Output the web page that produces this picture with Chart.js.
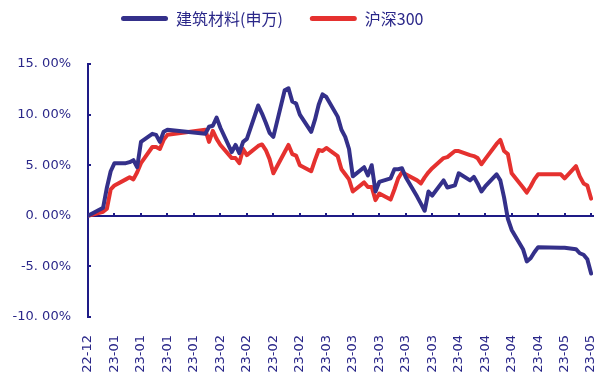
<!DOCTYPE html>
<html><head><meta charset="utf-8">
<script src="https://cdn.jsdelivr.net/npm/chart.js@4/dist/chart.umd.min.js"></script>
<style>html,body{margin:0;padding:0;background:#fff}#wrap{width:600px;height:378px;position:relative}</style>
</head><body><div id="wrap"><canvas id="c"></canvas></div>
<script>
// ---- data ----
const startDate = '2022-12-30';
const dates = [
 '2022-12-30',
 '2023-01-03','2023-01-04','2023-01-05','2023-01-06','2023-01-09','2023-01-10','2023-01-11','2023-01-12','2023-01-13',
 '2023-01-16','2023-01-17','2023-01-18','2023-01-19','2023-01-20','2023-01-30','2023-01-31',
 '2023-02-01','2023-02-02','2023-02-03','2023-02-06','2023-02-07','2023-02-08','2023-02-09','2023-02-10',
 '2023-02-13','2023-02-14','2023-02-15','2023-02-16','2023-02-17','2023-02-20','2023-02-21','2023-02-22','2023-02-23','2023-02-24',
 '2023-02-27','2023-02-28',
 '2023-03-01','2023-03-02','2023-03-03','2023-03-06','2023-03-07','2023-03-08','2023-03-09','2023-03-10',
 '2023-03-13','2023-03-14','2023-03-15','2023-03-16','2023-03-17','2023-03-20','2023-03-21','2023-03-22','2023-03-23','2023-03-24',
 '2023-03-27','2023-03-28','2023-03-29','2023-03-30','2023-03-31',
 '2023-04-03','2023-04-04','2023-04-06','2023-04-07','2023-04-10','2023-04-11','2023-04-12','2023-04-13','2023-04-14',
 '2023-04-17','2023-04-18','2023-04-19','2023-04-20','2023-04-21','2023-04-24','2023-04-25','2023-04-26','2023-04-27','2023-04-28',
 '2023-05-04','2023-05-05','2023-05-08','2023-05-09','2023-05-10','2023-05-11','2023-05-12'
];
const buildingMaterials = [
 0,
 0.8, 2.8, 4.4, 5.2, 5.2, 5.3, 5.5, 4.8, 7.3,
 8.1, 8.0, 7.3, 8.3, 8.5, 8.1, 8.8,
 8.9, 9.7, 8.7, 6.3, 7.0, 6.2, 7.3, 7.6,
 10.9, 10.1, 9.2, 8.2, 7.8, 12.4, 12.6, 11.3, 11.1, 10.0,
 8.3, 9.5,
 11.0, 12.0, 11.75, 9.8, 8.5, 7.8, 6.6, 3.9,
 4.8, 4.0, 5.0, 2.4, 3.35, 3.7, 4.6, 4.6, 4.7, 3.8,
 1.9, 1.2, 0.5, 2.4, 2.0,
 3.5, 2.8, 3.0, 4.2, 3.5, 3.85, 3.2, 2.4, 2.9,
 4.1, 3.5, 1.8, -0.3, -1.4, -3.3, -4.5, -4.2, -3.6, -3.1,
 -3.15, -3.15, -3.3, -3.7, -3.85, -4.3, -5.7
];
const hs300 = [
 0,
 0.4, 0.7, 2.6, 3.0, 3.6, 3.8, 3.6, 4.3, 5.2,
 6.8, 6.8, 6.6, 7.5, 8.0, 8.5, 7.3,
 8.4, 7.6, 7.0, 5.7, 5.7, 5.2, 6.6, 6.0,
 6.9, 7.05, 6.5, 5.6, 4.2, 6.3, 7.0, 6.1, 5.95, 5.0,
 4.4, 5.5,
 6.5, 6.4, 6.7, 5.9, 4.6, 4.1, 3.6, 2.4,
 3.3, 2.85, 2.85, 1.55, 2.2, 1.6, 2.6, 3.7, 4.3, 4.1,
 3.5, 3.2, 3.8, 4.3, 4.7,
 5.7, 5.8, 6.4, 6.4, 6.0, 5.9, 5.7, 5.1, 5.6,
 7.1, 7.5, 6.4, 6.1, 4.2, 2.8, 2.3, 2.9, 3.6, 4.1,
 4.1, 3.7, 4.9, 3.9, 3.2, 3.0, 1.7
];
const seriesNames = ['建筑材料(申万)', '沪深300'];
const tickLabels = ['22-12','23-01','23-01','23-01','23-01','23-02','23-02','23-02','23-02',
 '23-03','23-03','23-03','23-03','23-03','23-04','23-04','23-04','23-04','23-05','23-05'];
const tickStepDays = 7;
const yTicks = [-10, -5, 0, 5, 10, 15];

// ---- helpers ----
const dayOffset = d => Math.round((Date.parse(d) - Date.parse(startDate)) / 86400000);
const toPoints = vals => dates.map((d, i) => ({x: dayOffset(d), y: vals[i]}));
const xTickValues = tickLabels.map((_, i) => i * tickStepDays);

const navy = '#1E1B86';
const textColor = '#2A2789';
const blue = '#34308A';
const red = '#E5312F';
const tickFont = {family: '"DejaVu Sans"', size: 13};
const legendFontSize = 16;

const legendPlace = {
  id: 'legendPlace',
  afterLayout(chart) {
    const lg = chart.legend;
    if (!lg) return;
    const pad = lg.options.labels.padding;
    lg.left = 121 - pad;
    lg.top = 18.5 - pad - legendFontSize / 2;
  }
};

new Chart(document.getElementById('c'), {
  type: 'line',
  data: {
    datasets: [
      {label: seriesNames[0], data: toPoints(buildingMaterials), borderColor: blue, backgroundColor: blue,
       borderWidth: 4, pointRadius: 0, tension: 0, borderJoinStyle: 'round', borderCapStyle: 'round'},
      {label: seriesNames[1], data: toPoints(hs300), borderColor: red, backgroundColor: red,
       borderWidth: 4, pointRadius: 0, tension: 0, borderJoinStyle: 'round', borderCapStyle: 'round'}
    ]
  },
  options: {
    responsive: true, maintainAspectRatio: false, animation: false,
    layout: {padding: {top: 11, right: 7, left: 0, bottom: 0}},
    plugins: {
      legend: {
        position: 'top', align: 'start',
        labels: {
          boxWidth: 47, boxHeight: 5, useBorderRadius: true, borderRadius: 2.5, padding: 27,
          color: textColor, font: {family: '"Noto Sans CJK SC"', size: legendFontSize},
          generateLabels: chart => Chart.defaults.plugins.legend.labels.generateLabels(chart)
            .map(it => Object.assign(it, {lineWidth: 0, fillStyle: it.strokeStyle}))
        }
      },
      tooltip: {enabled: false}
    },
    scales: {
      x: {
        type: 'linear', min: 0, max: 133.5, position: {y: 0},
        afterBuildTicks: s => { s.ticks = xTickValues.map(v => ({value: v})); },
        ticks: {display: false},
        grid: {drawOnChartArea: false, drawTicks: true, tickLength: -4, color: navy, lineWidth: 2},
        border: {color: navy, width: 2}
      },
      x2: {
        type: 'linear', min: 0, max: 133.5, position: 'bottom',
        afterBuildTicks: s => { s.ticks = xTickValues.map(v => ({value: v})); },
        ticks: {autoSkip: false, minRotation: 90, maxRotation: 90, padding: 18, color: textColor, font: tickFont,
                callback: (v, i) => tickLabels[i]},
        grid: {display: false, drawTicks: false},
        border: {display: false},
        afterFit: s => { s.height = 61; s.paddingLeft = 0; s.paddingRight = 0; }
      },
      y: {
        type: 'linear', min: -10, max: 15, position: 'left',
        afterBuildTicks: s => { s.ticks = yTicks.map(v => ({value: v})); },
        ticks: {padding: 20, color: textColor, font: tickFont,
                callback: v => v.toFixed(2).replace('.', '. ') + '%'},
        grid: {drawOnChartArea: false, drawTicks: true, tickLength: -3, color: navy, lineWidth: 2},
        border: {color: navy, width: 2},
        afterFit: s => { s.width = 88; }
      }
    }
  },
  plugins: [legendPlace]
});
</script>
</body></html>
